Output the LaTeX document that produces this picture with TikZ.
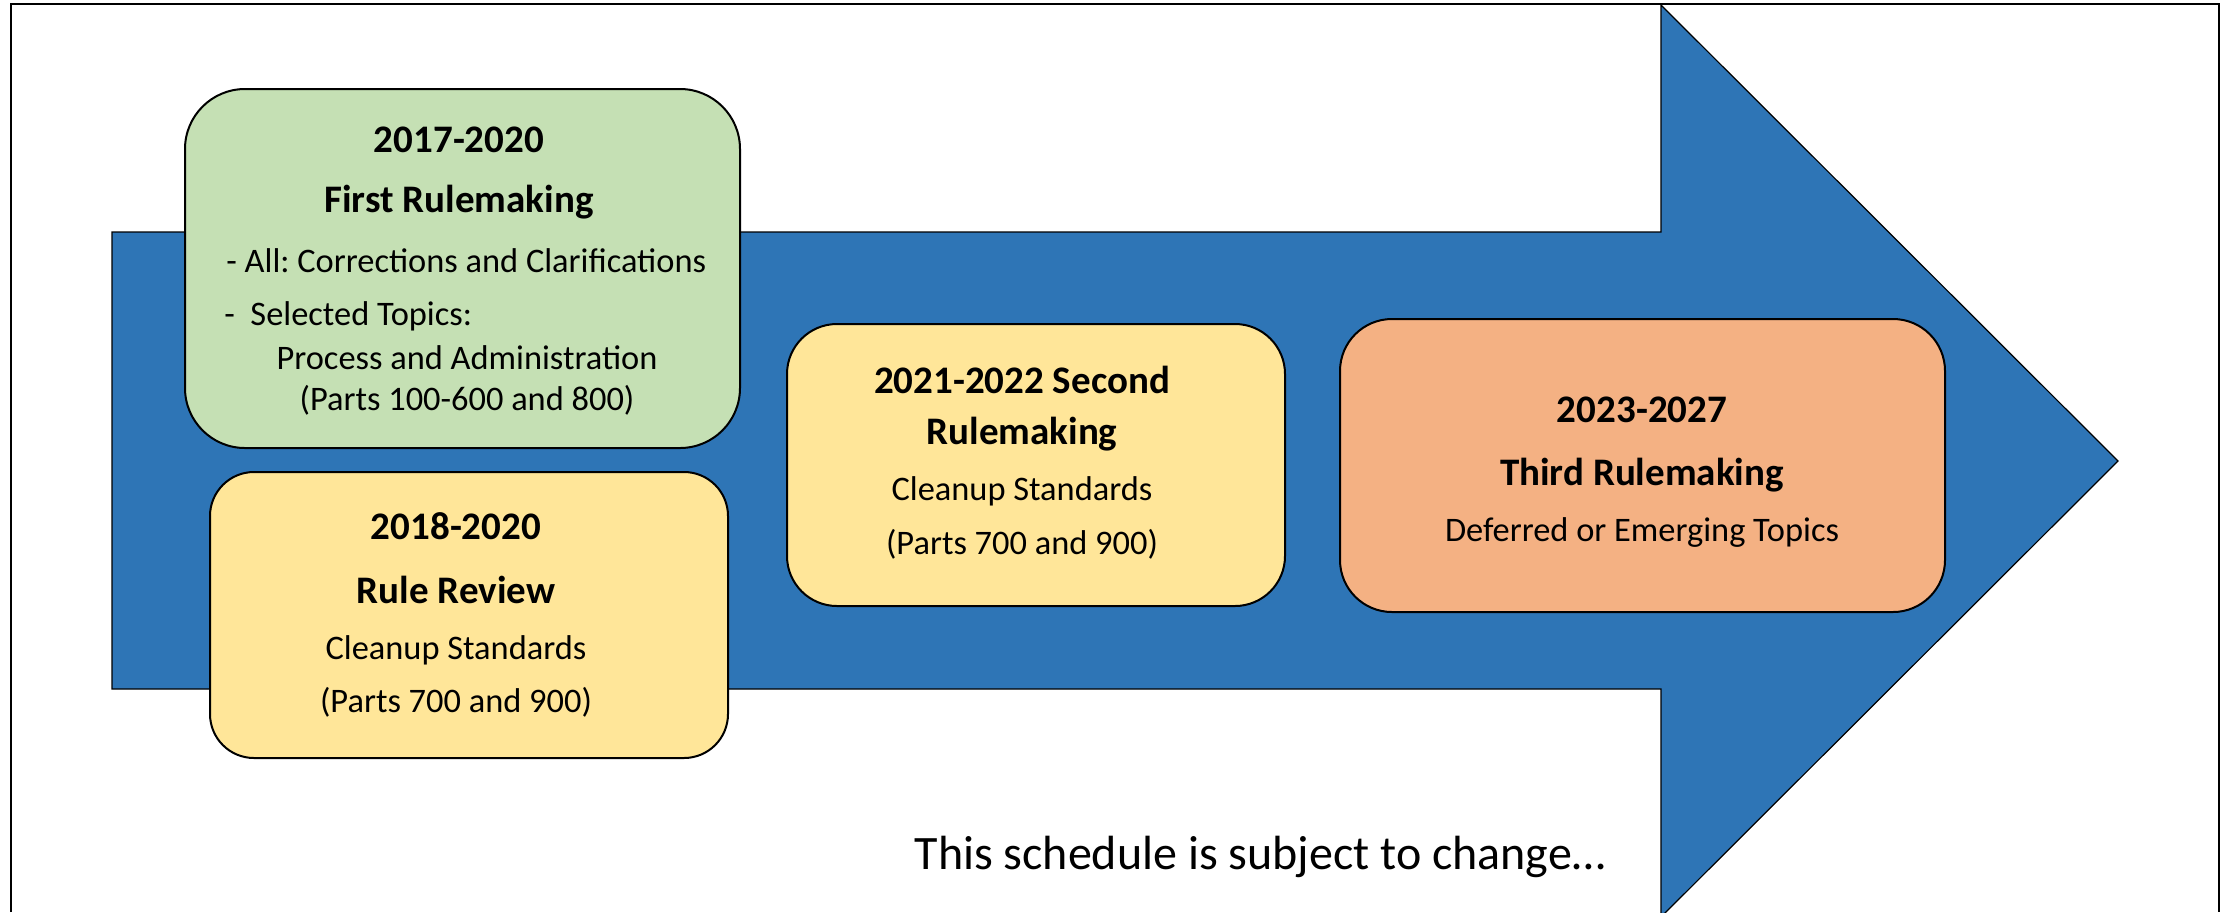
\documentclass[tikz,border=0pt]{standalone}
\usepackage{fontspec}
\setmainfont{Carlito}
\frenchspacing
\definecolor{arrowblue}{HTML}{2E75B6}
\definecolor{boxgreen}{HTML}{C5E0B4}
\definecolor{boxyellow}{HTML}{FFE699}
\definecolor{boxorange}{HTML}{F4B183}
\tikzset{
  box/.style={draw=black, line width=1pt, inner sep=0pt, rectangle},
  ttl/.style={anchor=base, inner sep=0pt, font=\fontsize{19.5}{22}\selectfont\bfseries},
  txt/.style={anchor=base, inner sep=0pt, font=\fontsize{17.2}{20}\selectfont},
  txtl/.style={anchor=base west, inner sep=0pt, font=\fontsize{17.2}{20}\selectfont},
}
\begin{document}
\begin{tikzpicture}[x=0.5pt,y=-0.5pt]
\useasboundingbox (0,0) rectangle (2231,912);
% frame
\draw[line width=1.3pt] (11,912) -- (11,4) -- (2219,4) -- (2219,912);
% big arrow
\draw[fill=arrowblue, draw=black, line width=0.6pt, line join=miter]
  (112,232) -- (1661,232) -- (1661,5) -- (2118,461) -- (1661,917) -- (1661,689) -- (112,689) -- cycle;
% boxes
\node[box, fill=boxgreen, rounded corners=30pt, minimum width=277.5pt, minimum height=179.5pt] (b1) at (462.5,268.5) {};
\node[box, fill=boxyellow, rounded corners=22pt, minimum width=259pt, minimum height=143pt] (b2) at (469,615) {};
\node[box, fill=boxyellow, rounded corners=25pt, minimum width=249pt, minimum height=141pt] (b3) at (1036,465) {};
\node[box, fill=boxorange, rounded corners=26pt, minimum width=302.5pt, minimum height=146.5pt] (b4) at (1642.5,465.5) {};
% texts box 1
\node[ttl] (t1a) at (459,152) {2017-2020};
\node[ttl] (t1b) at (459,212) {First Rulemaking};
\node[txtl] (t1c) at (226,272) {- All: Corrections and Clarifications};
\node[txtl] (t1d) at (224,325) {-\ \ Selected Topics:};
\node[txt] (t1e) at (467,369) {Process and Administration};
\node[txt] (t1f) at (467,410) {(Parts 100-600 and 800)};
% texts box 2
\node[ttl] (t2a) at (456,539) {2018-2020};
\node[ttl] (t2b) at (456,603) {Rule Review};
\node[txt] (t2c) at (456,659) {Cleanup Standards};
\node[txt] (t2d) at (456,712) {(Parts 700 and 900)};
% texts box 3
\node[ttl] (t3a) at (1022,393) {2021-2022 Second};
\node[ttl] (t3b) at (1022,444) {Rulemaking};
\node[txt] (t3c) at (1022,500) {Cleanup Standards};
\node[txt] (t3d) at (1022,554) {(Parts 700 and 900)};
% texts box 4
\node[ttl] (t4a) at (1642,422) {2023-2027};
\node[ttl] (t4b) at (1642,485) {Third Rulemaking};
\node[txt] (t4c) at (1642,541) {Deferred or Emerging Topics};
% caption
\node[anchor=base, inner sep=0pt, font=\fontsize{24}{28}\selectfont] (cap) at (1260,869) {This schedule is subject to change…};
\end{tikzpicture}
\end{document}
